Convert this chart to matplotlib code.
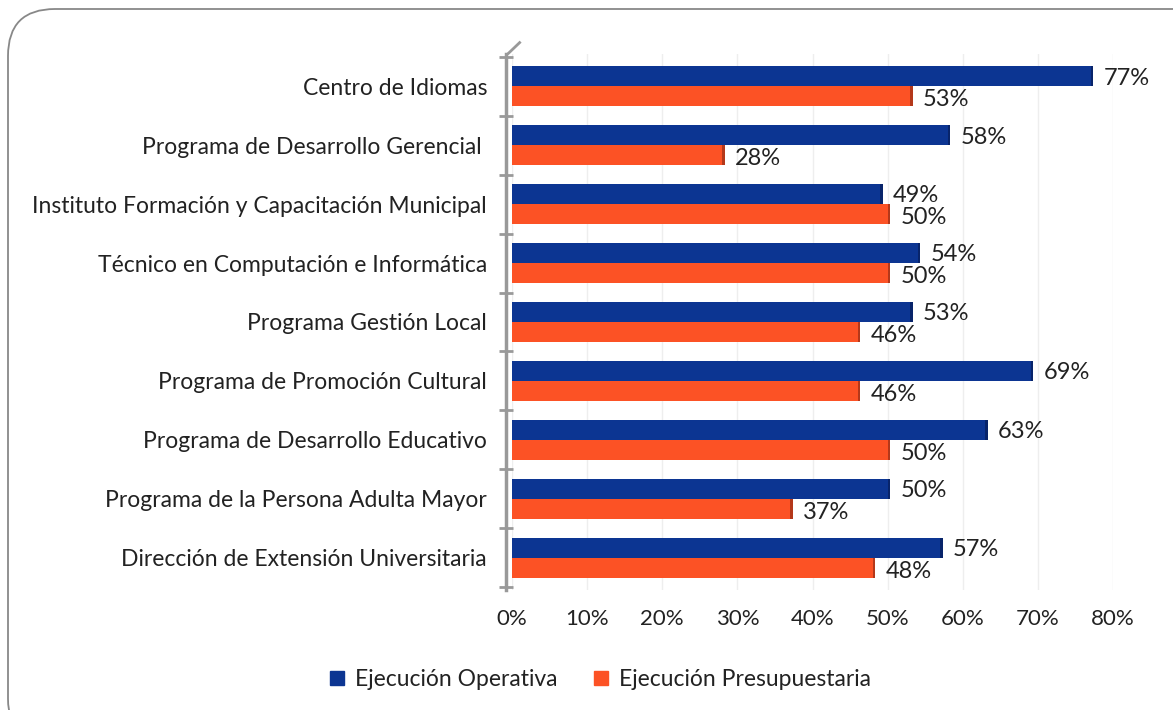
import numpy as np
import matplotlib
matplotlib.use("Agg")
import matplotlib.pyplot as plt
from matplotlib.patches import FancyBboxPatch, Patch

plt.rcParams['font.family'] = ['Lato', 'DejaVu Sans']

# data, top to bottom as shown
categories = ['Centro de Idiomas',
              'Programa de Desarrollo Gerencial ',
              'Instituto Formación y Capacitación Municipal',
              'Técnico en Computación e Informática',
              'Programa Gestión Local',
              'Programa de Promoción Cultural',
              'Programa de Desarrollo Educativo',
              'Programa de la Persona Adulta Mayor',
              'Dirección de Extensión Universitaria']
operativa = [77, 58, 49, 54, 53, 69, 63, 50, 57]
presupuestaria = [53, 28, 50, 50, 46, 46, 50, 37, 48]
xticks = [0, 10, 20, 30, 40, 50, 60, 70, 80]

blue = '#0c3592'
blue_dark = '#08246a'
orange = '#fc5225'
orange_dark = '#b4381a'
txt = '#222222'

fig = plt.figure(figsize=(11.73, 7.10), dpi=100)
ax = fig.add_axes([0.4365, 0.169, 0.5125, 0.755])

n = len(categories)
y = np.arange(n)[::-1]
h = 0.34

ax.barh(y + h / 2, operativa, height=h, color=blue, zorder=3)
ax.barh(y - h / 2, presupuestaria, height=h, color=orange, zorder=3)
# darker end caps for the 3d look
ax.barh(y + h / 2, 0.35, left=operativa, height=h, color=blue_dark, zorder=3)
ax.barh(y - h / 2, 0.35, left=presupuestaria, height=h, color=orange_dark, zorder=3)

for yi, v in zip(y, operativa):
    ax.text(v + 1.7, yi + h / 2 - 0.03, f'{v}%', va='center', ha='left', fontsize=17, color=txt)
for yi, v in zip(y, presupuestaria):
    ax.text(v + 1.7, yi - h / 2 - 0.06, f'{v}%', va='center', ha='left', fontsize=17, color=txt)

ax.set_xlim(0, 80)
ax.set_ylim(-0.55, n - 0.45)
ax.set_xticks(xticks)
ax.set_xticklabels([f'{t}%' for t in xticks])
ax.set_yticks(y)
ax.set_yticklabels(categories)
ax.set_yticks(np.arange(-0.5, n), minor=True)
ax.tick_params(axis='y', which='major', length=0, pad=14, labelsize=16.5, labelcolor=txt)
ax.tick_params(axis='y', which='minor', length=10, direction='inout', color='#999999', width=2)
ax.tick_params(axis='x', length=0, pad=14, labelsize=16, labelcolor=txt)

ax.grid(axis='x', color='#eeeeee', linewidth=1, zorder=0)
for s in ['top', 'right', 'bottom']:
    ax.spines[s].set_visible(False)
ax.spines['left'].set_color('#999999')
ax.spines['left'].set_linewidth(2.5)
ax.spines['left'].set_position(('outward', 4))

# diagonal at top of the vertical axis
fig.add_artist(plt.Line2D([0.4335, 0.443], [0.925, 0.94], color='#999999', lw=2))

handles = [Patch(color=blue, label='Ejecución Operativa'),
           Patch(color=orange, label='Ejecución Presupuestaria')]
fig.legend(handles=handles, loc='center', bbox_to_anchor=(0.512, 0.043), ncol=2,
           frameon=False, fontsize=16.5, handlelength=0.6, handleheight=0.6,
           columnspacing=1.6, handletextpad=0.5, labelcolor=txt)

border = FancyBboxPatch((8 / 1173, -0.05), 1.05, 1.05 - 9 / 710,
                        boxstyle='round,pad=0,rounding_size=0.04',
                        transform=fig.transFigure, fill=False,
                        edgecolor='#888888', linewidth=1.3, mutation_aspect=1173 / 710)
fig.add_artist(border)

fig.savefig('out.png', dpi=100)
